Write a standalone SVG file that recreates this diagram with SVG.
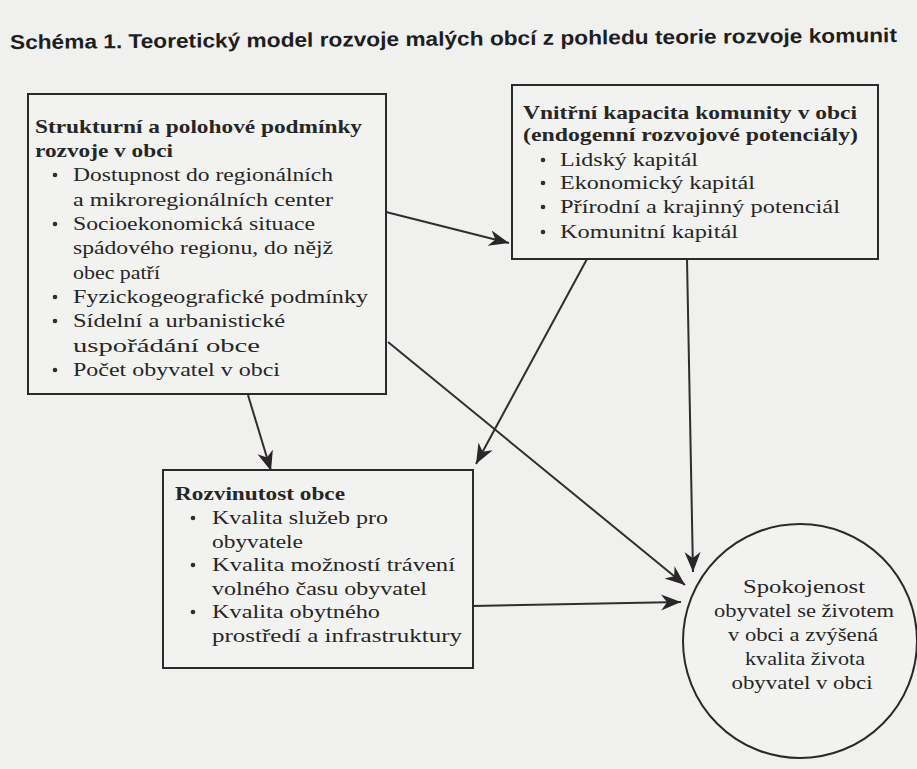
<svg xmlns="http://www.w3.org/2000/svg" width="917" height="769" viewBox="0 0 917 769">
<defs>
<marker id="ah" markerUnits="userSpaceOnUse" markerWidth="24" markerHeight="18" refX="20" refY="8" orient="auto">
<path d="M0,0 L20,8 L0,16 L6,8 z" fill="#2c2528"/>
</marker>
<style>
.bg{fill:#f0f0ee}
.box{fill:#f2f2f0;stroke:#2a2a2a;stroke-width:2}
.t{font-family:"Liberation Serif","Times New Roman",serif;font-size:19.5px;fill:#262626}
.b{font-weight:bold}
.title{font-family:"Liberation Sans",Arial,sans-serif;font-size:20px;font-weight:bold;fill:#1e1e1e}
.dot{fill:#2e2e2e}
.c{fill:none;stroke:#2e2e2e;stroke-width:2;marker-end:url(#ah)}
</style>
</defs>
<rect class="bg" x="0" y="0" width="917" height="769"/>
<text class="title" x="10" y="49" textLength="887" lengthAdjust="spacingAndGlyphs" transform="rotate(-0.45 10 49)">Schéma 1. Teoretický model rozvoje malých obcí z pohledu teorie rozvoje komunit</text>

<g id="connectors">
<line class="c" x1="386" y1="212" x2="509" y2="243"/>
<line class="c" x1="388" y1="342" x2="685" y2="585"/>
<line class="c" x1="248" y1="395" x2="271" y2="471"/>
<line class="c" x1="587" y1="259" x2="476" y2="464"/>
<line class="c" x1="687" y1="259" x2="693" y2="572"/>
<line class="c" x1="473" y1="606" x2="681" y2="602"/>
</g>

<g id="node-struktura">
<rect class="box" x="28" y="94" width="358" height="300"/>
<text class="t b" x="35" y="133" textLength="327" lengthAdjust="spacingAndGlyphs">Strukturní a polohové podmínky</text>
<text class="t b" x="35" y="157" textLength="138" lengthAdjust="spacingAndGlyphs">rozvoje v obci</text>
<circle class="dot" cx="55" cy="175" r="2.3"/>
<text class="t" x="73" y="181" textLength="260" lengthAdjust="spacingAndGlyphs">Dostupnost do regionálních</text>
<text class="t" x="73" y="206" textLength="260" lengthAdjust="spacingAndGlyphs">a mikroregionálních center</text>
<circle class="dot" cx="55" cy="224" r="2.3"/>
<text class="t" x="73" y="230" textLength="242" lengthAdjust="spacingAndGlyphs">Socioekonomická situace</text>
<text class="t" x="73" y="254" textLength="260" lengthAdjust="spacingAndGlyphs">spádového regionu, do nějž</text>
<text class="t" x="73" y="279" textLength="87" lengthAdjust="spacingAndGlyphs">obec patří</text>
<circle class="dot" cx="55" cy="297" r="2.3"/>
<text class="t" x="73" y="303" textLength="295" lengthAdjust="spacingAndGlyphs">Fyzickogeografické podmínky</text>
<circle class="dot" cx="55" cy="321" r="2.3"/>
<text class="t" x="73" y="327" textLength="212" lengthAdjust="spacingAndGlyphs">Sídelní a urbanistické</text>
<text class="t" x="73" y="352" textLength="187" lengthAdjust="spacingAndGlyphs">uspořádání obce</text>
<circle class="dot" cx="55" cy="370" r="2.3"/>
<text class="t" x="73" y="376" textLength="207" lengthAdjust="spacingAndGlyphs">Počet obyvatel v obci</text>
</g>

<g id="node-kapacita">
<rect class="box" x="512" y="85" width="366" height="174"/>
<text class="t b" x="523" y="119" textLength="334" lengthAdjust="spacingAndGlyphs">Vnitřní kapacita komunity v obci</text>
<text class="t b" x="523" y="141" textLength="335" lengthAdjust="spacingAndGlyphs">(endogenní rozvojové potenciály)</text>
<circle class="dot" cx="543" cy="160" r="2.3"/>
<text class="t" x="560" y="166" textLength="138" lengthAdjust="spacingAndGlyphs">Lidský kapitál</text>
<circle class="dot" cx="543" cy="183" r="2.3"/>
<text class="t" x="560" y="189" textLength="195" lengthAdjust="spacingAndGlyphs">Ekonomický kapitál</text>
<circle class="dot" cx="543" cy="207" r="2.3"/>
<text class="t" x="560" y="213" textLength="280" lengthAdjust="spacingAndGlyphs">Přírodní a krajinný potenciál</text>
<circle class="dot" cx="543" cy="232" r="2.3"/>
<text class="t" x="560" y="238" textLength="178" lengthAdjust="spacingAndGlyphs">Komunitní kapitál</text>
</g>

<g id="node-rozvinutost">
<rect class="box" x="163" y="470" width="310" height="198"/>
<text class="t b" x="175" y="500" textLength="170" lengthAdjust="spacingAndGlyphs">Rozvinutost obce</text>
<circle class="dot" cx="193" cy="518" r="2.3"/>
<text class="t" x="212" y="524" textLength="176" lengthAdjust="spacingAndGlyphs">Kvalita služeb pro</text>
<text class="t" x="212" y="548" textLength="91" lengthAdjust="spacingAndGlyphs">obyvatele</text>
<circle class="dot" cx="193" cy="565" r="2.3"/>
<text class="t" x="212" y="571" textLength="243" lengthAdjust="spacingAndGlyphs">Kvalita možností trávení</text>
<text class="t" x="212" y="595" textLength="215" lengthAdjust="spacingAndGlyphs">volného času obyvatel</text>
<circle class="dot" cx="193" cy="612" r="2.3"/>
<text class="t" x="212" y="618" textLength="168" lengthAdjust="spacingAndGlyphs">Kvalita obytného</text>
<text class="t" x="212" y="642" textLength="250" lengthAdjust="spacingAndGlyphs">prostředí a infrastruktury</text>
</g>

<g id="node-spokojenost">
<circle cx="800" cy="641" r="117" fill="#f2f2f0" stroke="#2a2a2a" stroke-width="2"/>
<text class="t" x="804" y="593" text-anchor="middle" textLength="122" lengthAdjust="spacingAndGlyphs">Spokojenost</text>
<text class="t" x="804" y="617" text-anchor="middle" textLength="180" lengthAdjust="spacingAndGlyphs">obyvatel se životem</text>
<text class="t" x="803" y="641" text-anchor="middle" textLength="150" lengthAdjust="spacingAndGlyphs">v obci a zvýšená</text>
<text class="t" x="805" y="665" text-anchor="middle" textLength="120" lengthAdjust="spacingAndGlyphs">kvalita života</text>
<text class="t" x="802" y="689" text-anchor="middle" textLength="141" lengthAdjust="spacingAndGlyphs">obyvatel v obci</text>
</g>
</svg>
